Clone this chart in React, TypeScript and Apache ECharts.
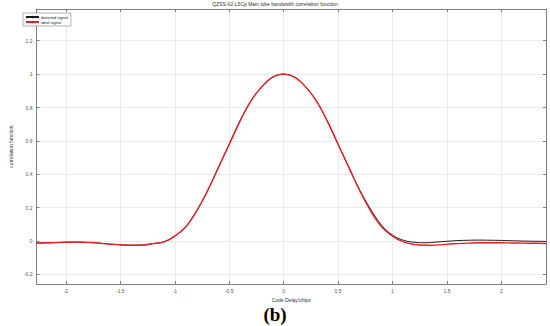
import React, { useEffect, useRef } from "react";
import * as echarts from "echarts";

const titleText = "QZSS-02-L5Cp Main lobe bandwidth correlation function";
const seriesNames = ["distorted signal", "ideal signal"];
const xTicks = [-2, -1.5, -1, -0.5, 0, 0.5, 1, 1.5, 2];
const yTicks = [-0.2, 0, 0.2, 0.4, 0.6, 0.8, 1, 1.2];

const delays = [
  -2.27, -2.2, -2.1, -2.0, -1.9, -1.8, -1.7, -1.6, -1.5, -1.4, -1.3, -1.2, -1.1,
  -1.0, -0.9, -0.8, -0.7, -0.6, -0.5, -0.4, -0.3, -0.2, -0.1, 0,
  0.1, 0.2, 0.3, 0.4, 0.5, 0.6, 0.7, 0.8, 0.9, 1.0,
  1.1, 1.2, 1.3, 1.4, 1.5, 1.6, 1.7, 1.8, 1.9, 2.0, 2.1, 2.2, 2.3, 2.41,
];

const ideal = [
  -0.012, -0.011, -0.009, -0.007, -0.006, -0.008, -0.012, -0.018, -0.022, -0.025, -0.024, -0.015, -0.005,
  0.03, 0.085, 0.18, 0.3, 0.44, 0.58, 0.72, 0.84, 0.925, 0.982, 1.0,
  0.982, 0.925, 0.84, 0.72, 0.58, 0.44, 0.3, 0.18, 0.085, 0.03,
  -0.005, -0.02, -0.025, -0.024, -0.018, -0.015, -0.012, -0.01, -0.01, -0.01, -0.011, -0.012, -0.013, -0.014,
];

const distorted = [
  -0.012, -0.011, -0.009, -0.007, -0.006, -0.008, -0.012, -0.018, -0.022, -0.025, -0.024, -0.015, -0.005,
  0.03, 0.085, 0.18, 0.3, 0.44, 0.58, 0.72, 0.84, 0.925, 0.982, 1.0,
  0.982, 0.925, 0.84, 0.72, 0.58, 0.44, 0.305, 0.19, 0.095, 0.036,
  0.005, -0.007, -0.01, -0.006, -0.001, 0.003, 0.005, 0.006, 0.005, 0.004, 0.002, 0.0, -0.001, -0.002,
];

const X_MIN = -2.27;
const X_MAX = 2.41;
const Y_MIN = -0.257;
const Y_MAX = 1.39;

export default function App() {
  const ref = useRef<HTMLDivElement>(null);
  useEffect(() => {
    if (!ref.current) return;
    const chart = echarts.init(ref.current, null, { renderer: "svg" });
    const axisColor = "#808080";
    const labelStyle = { fontSize: 5, color: "#555", fontFamily: "Liberation Sans, Arial, sans-serif" };
    chart.setOption({
      animation: false,
      backgroundColor: "#fff",
      title: {
        text: titleText,
        left: "center",
        top: 1,
        padding: 0,
        textStyle: { fontSize: 5, fontWeight: "normal", color: "#333", fontFamily: "Liberation Sans, Arial, sans-serif" },
      },
      legend: {
        data: seriesNames,
        orient: "vertical",
        left: 23,
        top: 13,
        padding: [2, 3, 2, 2],
        itemGap: 1,
        itemWidth: 13,
        itemHeight: 3,
        borderColor: "#666",
        borderWidth: 0.5,
        backgroundColor: "#fff",
        textStyle: { fontSize: 4, color: "#222", padding: [0, 0, 0, -3], fontFamily: "Liberation Sans, Arial, sans-serif" },
      },
      grid: { left: 20, right: 4, top: 9, bottom: 42, containLabel: false },
      xAxis: [
        {
          type: "value",
          min: X_MIN,
          max: X_MAX,
          name: "Code Delay/chips",
          nameLocation: "middle",
          nameGap: 13,
          nameTextStyle: { fontSize: 5, color: "#333", fontFamily: "Liberation Sans, Arial, sans-serif" },
          axisLine: { show: true, onZero: false, lineStyle: { color: axisColor, width: 1 } },
          axisTick: { show: true, inside: true, length: 3, customValues: xTicks, lineStyle: { color: axisColor } },
          axisLabel: { ...labelStyle, margin: 4, customValues: xTicks, formatter: (v: number) => String(v) },
          splitLine: { show: true, lineStyle: { color: "#ebebeb", width: 1 } },
        },
        {
          type: "value",
          position: "top",
          min: X_MIN,
          max: X_MAX,
          axisLine: { show: true, onZero: false, lineStyle: { color: axisColor, width: 1 } },
          axisTick: { show: true, inside: true, length: 3, customValues: xTicks, lineStyle: { color: axisColor } },
          axisLabel: { show: false },
          splitLine: { show: false },
        },
      ],
      yAxis: [
        {
          type: "value",
          min: Y_MIN,
          max: Y_MAX,
          name: "correlation function",
          nameLocation: "middle",
          nameGap: 11,
          nameTextStyle: { fontSize: 5, color: "#333", fontFamily: "Liberation Sans, Arial, sans-serif" },
          axisLine: { show: true, onZero: false, lineStyle: { color: axisColor, width: 1 } },
          axisTick: { show: true, inside: true, length: 3, customValues: yTicks, lineStyle: { color: axisColor } },
          axisLabel: { ...labelStyle, margin: 4, customValues: yTicks, formatter: (v: number) => String(Math.round(v * 10) / 10) },
          splitLine: { show: true, lineStyle: { color: "#ebebeb", width: 1 } },
        },
        {
          type: "value",
          position: "right",
          min: Y_MIN,
          max: Y_MAX,
          axisLine: { show: true, onZero: false, lineStyle: { color: axisColor, width: 1 } },
          axisTick: { show: true, inside: true, length: 3, customValues: yTicks, lineStyle: { color: axisColor } },
          axisLabel: { show: false },
          splitLine: { show: false },
        },
      ],
      series: [
        {
          name: seriesNames[0],
          type: "line",
          smooth: 0.4,
          symbol: "none",
          xAxisIndex: 0,
          yAxisIndex: 0,
          lineStyle: { color: "#1a1a1a", width: 1.0 },
          itemStyle: { color: "#1a1a1a" },
          data: delays.map((d, i) => [d, distorted[i]]),
          z: 2,
        },
        {
          name: seriesNames[1],
          type: "line",
          smooth: 0.4,
          symbol: "none",
          xAxisIndex: 0,
          yAxisIndex: 0,
          lineStyle: { color: "#ee1c25", width: 1.4 },
          itemStyle: { color: "#ee1c25" },
          data: delays.map((d, i) => [d, ideal[i]]),
          z: 3,
        },
      ],
      graphic: [
        {
          type: "text",
          x: 275,
          y: 314,
          style: {
            text: "(b)",
            fontSize: 19,
            fontWeight: "bold",
            fontFamily: "Liberation Serif, Times New Roman, serif",
            fill: "#000",
            align: "center",
            verticalAlign: "middle",
          },
        },
      ],
    });
    return () => chart.dispose();
  }, []);
  return <div ref={ref} style={{ width: 550, height: 326, position: "absolute", left: 0, top: 0 }} />;
}
